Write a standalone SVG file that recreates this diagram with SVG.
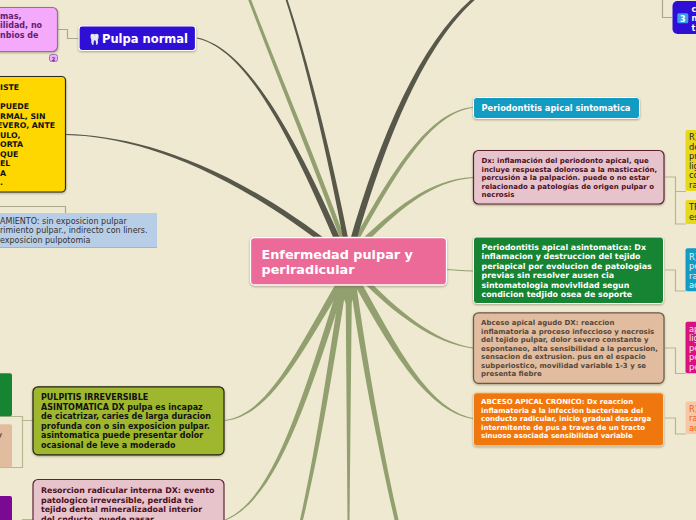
<svg xmlns="http://www.w3.org/2000/svg" width="696" height="520" viewBox="0 0 696 520">
<style>
text{font-family:"DejaVu Sans",sans-serif;font-weight:700}
.r{font-weight:400}
.g{fill:#91a06e}.d{fill:#57574a}
.t{fill:none;stroke:#b3b792;stroke-width:1.2}
.u{fill:none;stroke:#aca78e;stroke-width:1.2}
.s{filter:drop-shadow(0 1px 1px rgba(60,55,30,.4))}
</style>
<rect width="696" height="520" fill="#efe9d1"/>
<g id="connectors">
<path class="g" d="M250.500 -2C281.500 79 312 149 347 244L343 246C308 151 278.500 81 247.500 -2Z"/>
<path class="g" d="M473 108C431 113 397 171 354 249L350 247C393 169 429 111 473 107Z"/>
<path class="g" d="M473 178C431 181 397 211 357 252L353 248C393 209 429 179 473 177Z"/>
<path class="d" d="M197 37.500C245 47 293 129 345 249L339 251C288 131 245 49 197 38.500Z"/>
<path class="d" d="M287 -2C306 55 331 150 349.500 245L344.500 246C327 151 304 56 285 -2Z"/>
<path class="d" d="M477 -2C427 41 388 131 355 246L349 244C382 129 423 39 475 -4Z"/>
<path class="d" d="M66 134C130 135.500 222 158 337 248L333 252C218 162 130 136.500 66 135Z"/>
<path d="M447 269.500C455 270 465 271 473 271" fill="none" stroke="#91a06e" stroke-width="1"/>
<path class="g" d="M473 348.500C434 344 393 313 358 277L362 273C397 311 436 342 473 347.500Z"/>
<path class="g" d="M473 419C424 411 387 342 350 277L356 273C393 338 426 409 473 418Z"/>
<path class="g" d="M399 522C385 460 368 370 355 275L349 275C362 370 381 460 395 522Z"/>
<path class="g" d="M347.500 522L345.500 275H352L349.500 522Z"/>
<path class="g" d="M302.500 522C320 450 333 371 348 275L342 275C327 369 316 450 299.500 522Z"/>
<path class="g" d="M225 520.500C276 501 308 401 348 276L342 274C302 399 274 499 225 519.500Z"/>
<path class="g" d="M225 421C271 416 302 352 348 277L342 273C298 348 269 414 225 420Z"/>
<path class="g" d="M337 284H360L350 306H347Z"/>
<path class="u" d="M58 29.500H67.500V38.500H79"/>
<path class="u" d="M0 206.500H65.500V213"/>
<path class="t" d="M665 177H675.500V191.500H686M675.500 177V224H686"/>
<path class="t" d="M665 270H675.500V291H686"/>
<path class="t" d="M665 348H675.500V373.500H686"/>
<path class="t" d="M665 418H675.500V434H686"/>
<path class="t" d="M33 420.500H22.500M0 416.500H22.500V467.500H0"/>
<path class="t" d="M33 519.500H22.500V521"/>
<path class="u" d="M672 17.500H662.500V0"/>
</g>
<g id="node-central"><rect class="s" x="250.500" y="237.500" width="196" height="47.500" rx="4" fill="#ec6a98" stroke="#fff" stroke-width="1.300"/><text x="261.500" y="259" font-size="12.800" fill="#fff">Enfermedad pulpar y</text><text x="261.500" y="274" font-size="12.800" fill="#fff">periradicular</text></g>
<g id="node-sintomas"><rect class="s" x="-30" y="7.500" width="87.500" height="44" rx="5" fill="#f5a9fb" stroke="#9a6aa0" stroke-width="1.200"/><text font-size="8" fill="#5f1e72"><tspan x="0" y="19">mas,</tspan><tspan x="0" y="28">ilidad, no</tspan><tspan x="0" y="38">nbios de</tspan></text><rect x="49.500" y="54.500" width="8" height="7" rx="2" fill="#f0b0f5" stroke="#a070b0"/><text x="53.500" y="60.500" font-size="5" fill="#5f1e72" text-anchor="middle">2</text></g>
<g id="node-pulpa-normal"><rect class="s" x="79" y="26" width="116.500" height="24.500" rx="3" fill="#2f0fd6" stroke="#fff" stroke-width="1.200"/><text x="88" y="43" font-size="10.500" fill="#dfe8ff">🦷</text><text x="102" y="43" font-size="11.500" fill="#fff">Pulpa normal</text></g>
<g id="node-amarillo"><rect class="s" x="-30" y="76.500" width="95.500" height="115.500" rx="4" fill="#ffd700" stroke="#2a2a22" stroke-width="1.200"/><text font-size="7.800" fill="#111"><tspan x="0" y="90">ISTE</tspan><tspan x="0" y="109">PUEDE</tspan><tspan x="0" y="119">RMAL, SIN</tspan><tspan x="-3" y="128">EVERO, ANTE</tspan><tspan x="0" y="138">ULO,</tspan><tspan x="0" y="147">ORTA</tspan><tspan x="0" y="157">QUE</tspan><tspan x="0" y="166">EL</tspan><tspan x="0" y="176">A</tspan><tspan x="0" y="185">.</tspan></text><text x="-4" y="100" font-size="7.800" fill="#e8c000">E</text></g>
<g id="node-tratamiento"><rect x="-30" y="213" width="187" height="34" fill="#b8cde6"/><path d="M0 247.500H157" stroke="#b9b394" stroke-width="1"/><text class="r" font-size="8" fill="#333"><tspan x="0" y="224">AMIENTO: sin exposicion pulpar</tspan><tspan x="0" y="233">rimiento pulpar., indirecto con liners.</tspan><tspan x="0" y="243">exposicion pulpotomia</tspan></text></g>
<g id="node-periodontitis-sintomatica"><rect class="s" x="473.500" y="97.500" width="166" height="21" rx="3" fill="#129cc4" stroke="#fff" stroke-width="1"/><text x="481.500" y="111" font-size="8.300" fill="#fff">Periodontitis apical sintomatica</text></g>
<g id="node-dx-inflamacion"><rect class="s" x="473.500" y="150.500" width="190.500" height="53.500" rx="5" fill="#e7c4cb" stroke="#5e2235" stroke-width="1.200"/><text font-size="7" fill="#4c1024"><tspan x="481.500" y="163.300">Dx: inflamación del periodonto apical, que</tspan><tspan x="481.500" y="171.500">incluye respuesta dolorosa a la masticación,</tspan><tspan x="481.500" y="180">percusión  a la palpación. puede o no estar</tspan><tspan x="481.500" y="188.500">relacionado a patologías de origen pulpar o</tspan><tspan x="481.500" y="197">necrosis</tspan></text></g>
<g id="node-periodontitis-asintomatica"><rect class="s" x="473.500" y="237" width="190" height="66.500" rx="3" fill="#168433" stroke="#fff" stroke-width="1"/><text font-size="7.900" fill="#fff"><tspan x="481.500" y="250">Periodontitis apical asintomatica: Dx</tspan><tspan x="481.500" y="259">inflamacion y destruccion del tejido</tspan><tspan x="481.500" y="269">periapical por evolucion de patologias</tspan><tspan x="481.500" y="278">previas sin resolver  ausen cia</tspan><tspan x="481.500" y="288">sintomatologia movivlidad segun</tspan><tspan x="481.500" y="297">condicion tedjido osea de soporte</tspan></text></g>
<g id="node-absceso-agudo"><rect class="s" x="473.500" y="312.800" width="190.500" height="70.500" rx="5" fill="#e2bc9e" stroke="#6a5a4a" stroke-width="1.200"/><text font-size="7" fill="#54483b"><tspan x="481" y="325">Abceso apical agudo DX: reaccion</tspan><tspan x="481" y="334">inflamatoria a proceso infeccioso y necrosis</tspan><tspan x="481" y="342">del tejido pulpar, dolor severo constante y</tspan><tspan x="481" y="351">espontaneo, alta sensibilidad a la percusion,</tspan><tspan x="481" y="359">sensacion de extrusion. pus en el espacio</tspan><tspan x="481" y="368">subperiostico, movilidad variable 1-3 y se</tspan><tspan x="481" y="376">presenta fiebre</tspan></text></g>
<g id="node-absceso-cronico"><rect class="s" x="473.500" y="392.800" width="190" height="53" rx="3" fill="#f0770e" stroke="#f6d9b0" stroke-width="1"/><text font-size="7" fill="#fff"><tspan x="481" y="404">ABCESO APICAL CRONICO: Dx  reaccion</tspan><tspan x="481" y="413">inflamatoria a la infeccion bacteriana del</tspan><tspan x="481" y="421">conducto radicular, inicio gradual descarga</tspan><tspan x="481" y="430">intermitente de pus a traves de un tracto</tspan><tspan x="481" y="438">sinuoso asociada  sensibilidad variable</tspan></text></g>
<g id="node-pulpitis"><rect class="s" x="33" y="386.800" width="191" height="68" rx="5" fill="#9fb72e" stroke="#22220f" stroke-width="1.200"/><text font-size="8" fill="#111"><tspan x="41" y="400">PULPITIS IRREVERSIBLE</tspan><tspan x="41" y="410">ASINTOMATICA DX pulpa es incapaz</tspan><tspan x="41" y="419">de cicatrizar, caries de larga duracion</tspan><tspan x="41" y="429">profunda con o sin exposicion pulpar.</tspan><tspan x="41" y="438">asintomatica puede presentar dolor</tspan><tspan x="41" y="448">ocasional de leve a moderado</tspan></text></g>
<g id="node-resorcion"><rect x="33" y="479.500" width="191" height="60" rx="5" fill="#e7c4cb" stroke="#5e2235" stroke-width="1.200"/><text font-size="7.900" fill="#4c1024"><tspan x="41" y="493">Resorcion radicular interna DX: evento</tspan><tspan x="41" y="503">patologico irreversible, perdida te</tspan><tspan x="41" y="512">tejido dental mineralizadoal interior</tspan><tspan x="41" y="522">del cnducto, puede pasar</tspan></text></g>
<g id="node-left-green"><rect x="-10" y="373.300" width="22" height="43" rx="2" fill="#168433"/></g>
<g id="node-left-peach"><rect x="-10" y="424.300" width="22" height="43" rx="2" fill="#e2bc9e"/><text x="-2.500" y="437" font-size="7" fill="#54483b">y</text></g>
<g id="node-left-purple"><rect x="-10" y="496" width="22" height="30" rx="2" fill="#7a0a94"/></g>
<g id="node-top-right"><rect x="672.500" y="1" width="40" height="33" rx="5" fill="#2f0fd6"/><rect x="677.300" y="13.300" width="11" height="10" rx="1.500" fill="#3aa0e8"/><text x="682.800" y="21.500" font-size="8" fill="#fff" text-anchor="middle">3</text><text font-size="8" fill="#fff"><tspan x="691.500" y="12">c</tspan><tspan x="691.500" y="21">n</tspan><tspan x="691.500" y="31">t</tspan></text></g>
<g id="node-r1"><rect x="685.500" y="130" width="30" height="61" rx="2" fill="#e7d81e"/><text class="r" font-size="8.300" fill="#222"><tspan x="689" y="140">R)</tspan><tspan x="689" y="150">de</tspan><tspan x="689" y="159">pr</tspan><tspan x="689" y="169">lig</tspan><tspan x="689" y="178">co</tspan><tspan x="689" y="188">ra</tspan></text></g>
<g id="node-r2"><rect x="685.500" y="200" width="30" height="24" rx="2" fill="#e7d81e"/><text class="r" font-size="8.300" fill="#222"><tspan x="689" y="209.500">TF</tspan><tspan x="689" y="219.500">es</tspan></text></g>
<g id="node-r3"><rect x="685.500" y="248.300" width="30" height="43" rx="2" fill="#129cc4"/><text class="r" font-size="8.300" fill="#e6f5fa"><tspan x="689" y="259.500">R)</tspan><tspan x="689" y="269">pe</tspan><tspan x="689" y="278.500">ra</tspan><tspan x="689" y="288">ac</tspan></text></g>
<g id="node-r4"><rect x="685.500" y="321.700" width="30" height="51.500" rx="2" fill="#d8127e"/><text class="r" font-size="8.300" fill="#fbe3f0"><tspan x="689" y="332">ap</tspan><tspan x="689" y="341">lig</tspan><tspan x="689" y="351">pe</tspan><tspan x="689" y="360">pe</tspan><tspan x="689" y="370">pe</tspan></text></g>
<g id="node-r5"><rect x="685.500" y="401.500" width="30" height="32.500" rx="2" fill="#f7c7a6"/><text class="r" font-size="8.300" fill="#f0600a"><tspan x="689" y="412">R)</tspan><tspan x="689" y="421">ra</tspan><tspan x="689" y="431">ac</tspan></text></g>
</svg>
